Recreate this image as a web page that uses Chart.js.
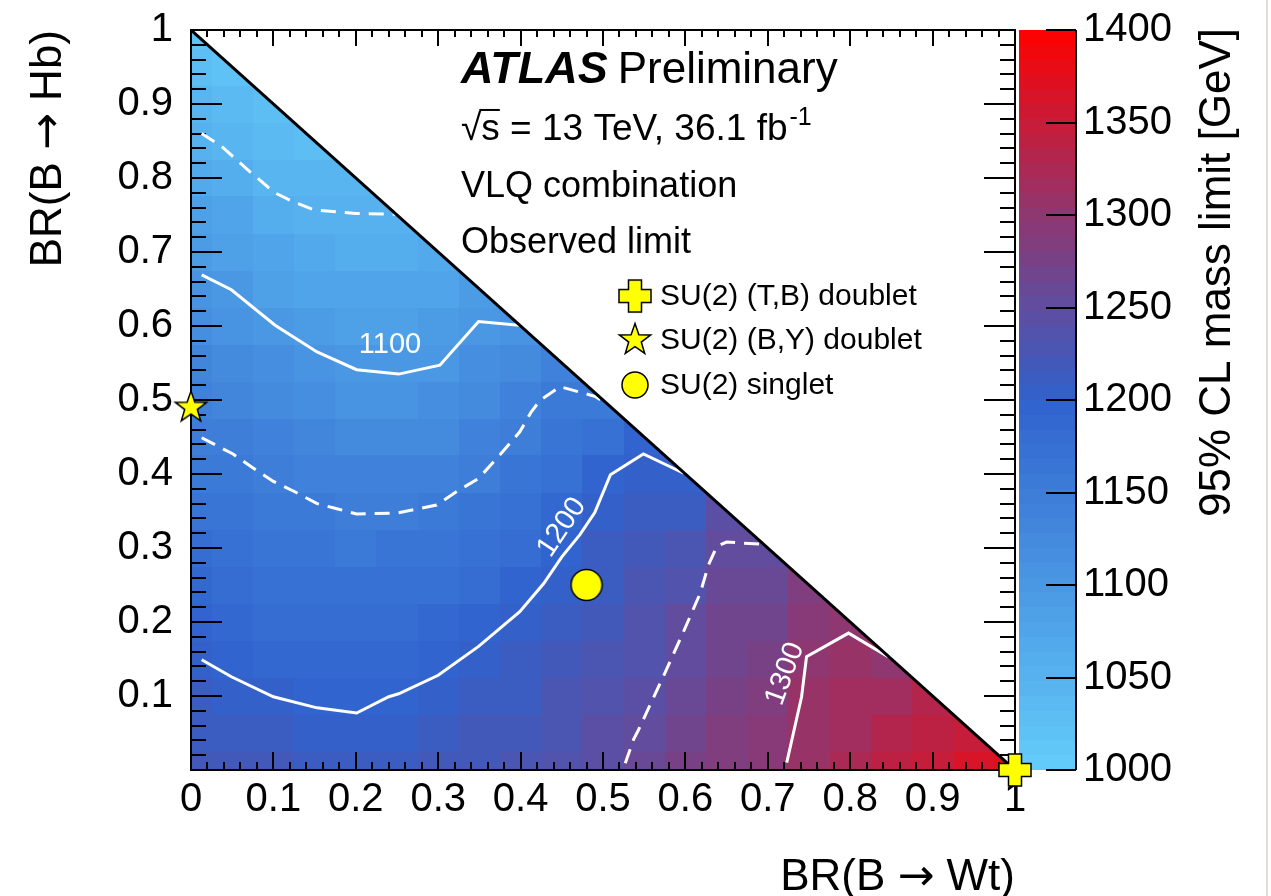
<!DOCTYPE html>
<html>
<head>
<meta charset="utf-8">
<script src="https://cdn.jsdelivr.net/npm/chart.js@4.4.1/dist/chart.umd.min.js"></script>
<style>
  html, body { margin: 0; padding: 0; background: #fff; }
  #wrap { position: relative; width: 1271px; height: 896px; overflow: hidden; }
  #edge { position: absolute; left: 1266px; top: 0; width: 2px; height: 896px; background: #e2ddd0; }
</style>
</head>
<body>
<div id="wrap">
  <canvas id="limit-chart" width="1271" height="896"></canvas>
  <div id="edge"></div>
</div>
<script>
const FONT = '"Liberation Sans", Arial, Helvetica, sans-serif';
const ARROW_FONT = '"DejaVu Sans", sans-serif';

// bin centres of the scan
const brWt = [0, 0.05, 0.1, 0.15, 0.2, 0.25, 0.3, 0.35, 0.4, 0.45, 0.5, 0.55, 0.6, 0.65, 0.7, 0.75, 0.8, 0.85, 0.9, 0.95, 1];
const brHb = [0, 0.05, 0.1, 0.15, 0.2, 0.25, 0.3, 0.35, 0.4, 0.45, 0.5, 0.55, 0.6, 0.65, 0.7, 0.75, 0.8, 0.85, 0.9, 0.95, 1];

// observed mass limit [GeV], one row per BR(B->Hb) bin, starting at BR(B->Wt) = 0
const limitHb000 = [1223, 1220, 1216, 1213, 1212, 1212, 1217, 1222, 1228, 1236, 1246, 1256, 1272, 1286, 1295, 1310, 1325, 1338, 1350, 1362, 1372];
const limitHb005 = [1215, 1212, 1208, 1206, 1204, 1206, 1211, 1216, 1222, 1231, 1240, 1252, 1267, 1281, 1290, 1307, 1318, 1330, 1340, 1350];
const limitHb010 = [1208, 1204, 1200, 1197, 1196, 1199, 1204, 1210, 1215, 1225, 1234, 1246, 1261, 1276, 1284, 1304, 1312, 1318, 1328];
const limitHb015 = [1201, 1196, 1191, 1188, 1186, 1190, 1195, 1203, 1209, 1219, 1228, 1239, 1255, 1270, 1278, 1300, 1305, 1302];
const limitHb020 = [1192, 1188, 1183, 1179, 1177, 1180, 1185, 1194, 1202, 1212, 1222, 1233, 1248, 1264, 1270, 1290, 1297];
const limitHb025 = [1184, 1180, 1174, 1170, 1168, 1170, 1174, 1183, 1193, 1205, 1215, 1226, 1238, 1258, 1261, 1280];
const limitHb030 = [1176, 1171, 1165, 1161, 1159, 1160, 1163, 1172, 1182, 1198, 1209, 1219, 1226, 1252, 1250];
const limitHb035 = [1167, 1163, 1157, 1152, 1149, 1149, 1152, 1161, 1172, 1186, 1203, 1212, 1213, 1240];
const limitHb040 = [1159, 1155, 1148, 1141, 1136, 1136, 1139, 1148, 1162, 1175, 1192, 1205, 1200];
const limitHb045 = [1151, 1145, 1136, 1129, 1123, 1123, 1126, 1136, 1151, 1164, 1175, 1195];
const limitHb050 = [1140, 1134, 1124, 1116, 1110, 1109, 1112, 1124, 1138, 1153, 1155];
const limitHb055 = [1129, 1122, 1112, 1104, 1098, 1097, 1099, 1112, 1122, 1140];
const limitHb060 = [1117, 1111, 1101, 1091, 1086, 1086, 1089, 1101, 1105];
const limitHb065 = [1106, 1100, 1087, 1078, 1074, 1075, 1079, 1092];
const limitHb070 = [1094, 1086, 1073, 1065, 1062, 1063, 1070];
const limitHb075 = [1081, 1072, 1058, 1052, 1050, 1052];
const limitHb080 = [1068, 1058, 1045, 1040, 1040];
const limitHb085 = [1055, 1045, 1035, 1030];
const limitHb090 = [1042, 1033, 1027];
const limitHb095 = [1030, 1022];
const limitHb100 = [1018];
const limitRows = [limitHb000, limitHb005, limitHb010, limitHb015, limitHb020, limitHb025, limitHb030,
  limitHb035, limitHb040, limitHb045, limitHb050, limitHb055, limitHb060, limitHb065, limitHb070,
  limitHb075, limitHb080, limitHb085, limitHb090, limitHb095, limitHb100];

// contour lines [BR(B->Wt), BR(B->Hb)]
const contour1050 = [[0.013, 0.860], [0.037, 0.843], [0.051, 0.829], [0.072, 0.808], [0.090, 0.791], [0.100, 0.781],
  [0.124, 0.768], [0.149, 0.757], [0.200, 0.752], [0.249, 0.751]];
const contour1100 = [[0.013, 0.669], [0.049, 0.649], [0.102, 0.601], [0.153, 0.565], [0.201, 0.541], [0.252, 0.535],
  [0.302, 0.547], [0.349, 0.606], [0.398, 0.601]];
const contour1150 = [[0.013, 0.449], [0.037, 0.435], [0.051, 0.427], [0.074, 0.409], [0.100, 0.390], [0.126, 0.376],
  [0.153, 0.360], [0.177, 0.353], [0.201, 0.346], [0.249, 0.347], [0.298, 0.358], [0.322, 0.376], [0.349, 0.394],
  [0.375, 0.426], [0.399, 0.457], [0.413, 0.484], [0.424, 0.500], [0.448, 0.518], [0.490, 0.505], [0.502, 0.497]];
const contour1200 = [[0.013, 0.149], [0.049, 0.126], [0.100, 0.099], [0.153, 0.084], [0.201, 0.077], [0.240, 0.099],
  [0.252, 0.103], [0.300, 0.128], [0.349, 0.167], [0.399, 0.214], [0.428, 0.252], [0.450, 0.288], [0.472, 0.318],
  [0.490, 0.348], [0.509, 0.399], [0.549, 0.427], [0.598, 0.401]];
const contour1250 = [[0.527, 0.009], [0.537, 0.041], [0.543, 0.054], [0.573, 0.126], [0.597, 0.185], [0.618, 0.239],
  [0.628, 0.277], [0.638, 0.302], [0.650, 0.308], [0.694, 0.305]];
const contour1300 = [[0.723, 0.010], [0.741, 0.099], [0.747, 0.153], [0.798, 0.185], [0.846, 0.153]];

const contourLabelText = ['1100', '1200', '1300'];
const contourLabelWt = [0.2415, 0.450, 0.721];
const contourLabelHb = [0.574, 0.328, 0.130];
const contourLabelAngle = [0, -56, -70];

// physics benchmarks
const benchmarkNames = ['SU(2) (T,B) doublet', 'SU(2) (B,Y) doublet', 'SU(2) singlet'];
const benchmarkWt = [1, 0, 0.48];
const benchmarkHb = [0, 0.49, 0.25];

const diagonalWt = [0, 1];
const diagonalHb = [1, 0];

const xTickLabels = ['0', '0.1', '0.2', '0.3', '0.4', '0.5', '0.6', '0.7', '0.8', '0.9', '1'];
const yTickLabels = ['', '0.1', '0.2', '0.3', '0.4', '0.5', '0.6', '0.7', '0.8', '0.9', '1'];
const zTickLabels = ['1000', '1050', '1100', '1150', '1200', '1250', '1300', '1350', '1400'];
const xTitleParts = ['BR(B ', '→', ' Wt)'];
const yTitleParts = ['BR(B ', '→', ' Hb)'];

const Z_MIN = 1000;
const Z_MAX = 1400;
const PALETTE_LEVELS = 50;
const paletteStops = [1000, 1200, 1300, 1400];
const paletteRgb = [[100, 205, 250], [48, 98, 205], [143, 55, 112], [255, 0, 0]];

const limitColour = function (value) {
    const step = (Z_MAX - Z_MIN) / PALETTE_LEVELS;
    let k = Math.floor((value - Z_MIN) / step);
    k = Math.max(0, Math.min(PALETTE_LEVELS - 1, k));
    const mid = Z_MIN + (k + 0.5) * step;
    let s = 0;
    while (s < paletteStops.length - 2 && mid > paletteStops[s + 1]) {
        s++;
    }
    const t = (mid - paletteStops[s]) / (paletteStops[s + 1] - paletteStops[s]);
    const a = paletteRgb[s];
    const b = paletteRgb[s + 1];
    const c = [0, 1, 2].map(n => Math.round(a[n] + (b[n] - a[n]) * t));
    return `rgb(${c[0]}, ${c[1]}, ${c[2]})`;
};

// yellow marker shapes
const makeMarker = function (size, draw) {
    const canvas = document.createElement('canvas');
    canvas.width = size;
    canvas.height = size;
    const c = canvas.getContext('2d');
    c.translate(size / 2, size / 2);
    c.beginPath();
    draw(c);
    c.closePath();
    c.fillStyle = '#ffff00';
    c.fill();
    c.lineWidth = 1.5;
    c.strokeStyle = '#000';
    c.stroke();
    return canvas;
};

const plusMarker = makeMarker(36, function (c) {
    const a = 16, t = 6.5;
    const pts = [[-t, -a], [t, -a], [t, -t], [a, -t], [a, t], [t, t], [t, a], [-t, a], [-t, t], [-a, t], [-a, -t], [-t, -t]];
    pts.forEach((p, i) => i === 0 ? c.moveTo(p[0], p[1]) : c.lineTo(p[0], p[1]));
});

const starMarker = makeMarker(38, function (c) {
    const outer = 16.5, inner = 6.6;
    for (let i = 0; i < 10; i++) {
        const r = i % 2 === 0 ? outer : inner;
        const ang = -Math.PI / 2 + i * Math.PI / 5;
        const px = r * Math.cos(ang), py = r * Math.sin(ang);
        i === 0 ? c.moveTo(px, py) : c.lineTo(px, py);
    }
});

const circleMarker = makeMarker(34, function (c) {
    c.arc(0, 0, 15.5, 0, Math.PI * 2);
});

const legendCircle = makeMarker(30, function (c) {
    c.arc(0, 0, 13, 0, Math.PI * 2);
});

const benchmarkStyles = [plusMarker, starMarker, circleMarker];
const legendStyles = [plusMarker, starMarker, legendCircle];

const contourDataset = function (points, dashed) {
    return {
        data: points.map(p => ({x: p[0], y: p[1]})),
        showLine: true,
        borderColor: '#ffffff',
        borderWidth: 3,
        borderDash: dashed ? [15, 9] : [],
        pointRadius: 0,
        tension: 0,
        fill: false
    };
};

// strip the overhang padding chart.js reserves for end labels
const fixedFit = function (size) {
    return function (scale) {
        if (scale.isHorizontal()) {
            scale.height = size;
        } else {
            scale.width = size;
        }
        scale.paddingTop = 0;
        scale.paddingBottom = 0;
        scale.paddingLeft = 0;
        scale.paddingRight = 0;
    };
};

const drawHeatmap = function (ctx, x, y) {
    const half = (brWt[1] - brWt[0]) / 2;
    ctx.save();
    ctx.beginPath();
    ctx.moveTo(x.getPixelForValue(0), y.getPixelForValue(0));
    ctx.lineTo(x.getPixelForValue(0), y.getPixelForValue(1));
    ctx.lineTo(x.getPixelForValue(1), y.getPixelForValue(0));
    ctx.closePath();
    ctx.clip();
    limitRows.forEach(function (row, j) {
        const yb = Math.round(y.getPixelForValue(Math.max(0, brHb[j] - half)));
        const yt = Math.round(y.getPixelForValue(Math.min(1, brHb[j] + half)));
        row.forEach(function (limit, i) {
            const xl = Math.round(x.getPixelForValue(Math.max(0, brWt[i] - half)));
            const xr = Math.round(x.getPixelForValue(Math.min(1, brWt[i] + half)));
            ctx.fillStyle = limitColour(limit);
            ctx.fillRect(xl, yt, xr - xl, yb - yt);
        });
    });
    ctx.restore();
};

const drawFrame = function (ctx, x, y, area) {
    ctx.save();
    ctx.strokeStyle = '#000';
    ctx.lineWidth = 2;
    ctx.beginPath();
    for (let k = 0; k <= 50; k++) {
        const major = k % 5 === 0;
        const px = Math.round(x.getPixelForValue(k / 50));
        ctx.moveTo(px, area.bottom);
        ctx.lineTo(px, area.bottom - (major ? 18 : 8));
        ctx.moveTo(px, area.top);
        ctx.lineTo(px, area.top + (major ? 16 : 7));
        const py = Math.round(y.getPixelForValue(k / 50));
        const len = major ? 31 : 15;
        ctx.moveTo(area.left, py);
        ctx.lineTo(area.left + len, py);
        ctx.moveTo(area.right, py);
        ctx.lineTo(area.right - len, py);
    }
    ctx.stroke();
    ctx.strokeRect(area.left, area.top, area.right - area.left, area.bottom - area.top);
    ctx.restore();
};

// axis title with a wider arrow glyph, drawn so that it ends at the origin
const drawAxisTitle = function (ctx, parts, size) {
    const fonts = [FONT, ARROW_FONT, FONT];
    const widths = parts.map(function (part, i) {
        ctx.font = `${size}px ${fonts[i]}`;
        return ctx.measureText(part).width;
    });
    let cx = -widths.reduce((a, b) => a + b, 0);
    ctx.textAlign = 'left';
    ctx.textBaseline = 'alphabetic';
    parts.forEach(function (part, i) {
        ctx.font = `${size}px ${fonts[i]}`;
        ctx.fillText(part, cx, 0);
        cx += widths[i];
    });
};

const drawColourBar = function (ctx, z, area) {
    const left = area.right + 4;
    const right = area.right + 61;
    const step = (Z_MAX - Z_MIN) / PALETTE_LEVELS;
    ctx.save();
    for (let k = 0; k < PALETTE_LEVELS; k++) {
        const lo = Z_MIN + k * step;
        const y0 = Math.round(z.getPixelForValue(lo));
        const y1 = Math.round(z.getPixelForValue(lo + step));
        ctx.fillStyle = limitColour(lo + step / 2);
        ctx.fillRect(left, y1, right - left, y0 - y1);
    }
    ctx.strokeStyle = '#000';
    ctx.lineWidth = 2;
    ctx.beginPath();
    ctx.moveTo(right, z.getPixelForValue(Z_MIN));
    ctx.lineTo(right, z.getPixelForValue(Z_MAX));
    z.ticks.forEach(function (tick) {
        const py = Math.round(z.getPixelForValue(tick.value));
        ctx.moveTo(right, py);
        ctx.lineTo(right - 30, py);
    });
    ctx.stroke();

    // axis title, reading bottom to top
    ctx.translate(area.right + 203, z.getPixelForValue(Z_MAX) - 2);
    ctx.rotate(-Math.PI / 2);
    ctx.fillStyle = '#000';
    ctx.font = `44px ${FONT}`;
    ctx.textAlign = 'right';
    ctx.textBaseline = 'middle';
    ctx.fillText('95% CL mass limit [GeV]', 0, 0);
    ctx.restore();
};

const drawAxisTitles = function (ctx, area) {
    ctx.save();
    ctx.fillStyle = '#000';
    ctx.translate(area.right, 890);
    drawAxisTitle(ctx, xTitleParts, 44);
    ctx.restore();

    ctx.save();
    ctx.fillStyle = '#000';
    ctx.translate(61, area.top);
    ctx.rotate(-Math.PI / 2);
    drawAxisTitle(ctx, yTitleParts, 44);
    ctx.restore();
};

const drawLabels = function (ctx, x, y) {
    ctx.save();
    ctx.fillStyle = '#ffffff';
    ctx.font = `29px ${FONT}`;
    ctx.textAlign = 'center';
    ctx.textBaseline = 'middle';
    contourLabelText.forEach(function (text, i) {
        ctx.save();
        ctx.translate(x.getPixelForValue(contourLabelWt[i]), y.getPixelForValue(contourLabelHb[i]));
        ctx.rotate(contourLabelAngle[i] * Math.PI / 180);
        ctx.fillText(text, 0, 0);
        ctx.restore();
    });
    ctx.restore();
};

const drawTexts = function (ctx, x, y) {
    const tx = x.getPixelForValue(0.3277);
    ctx.save();
    ctx.fillStyle = '#000';
    ctx.textAlign = 'left';
    ctx.textBaseline = 'alphabetic';

    ctx.font = `italic bold 45px ${FONT}`;
    const yAtlas = y.getPixelForValue(0.9284);
    ctx.fillText('ATLAS', tx, yAtlas);
    const atlasWidth = ctx.measureText('ATLAS').width;
    ctx.font = `44px ${FONT}`;
    ctx.fillText('Preliminary', tx + atlasWidth + 10, yAtlas);

    ctx.font = `37px ${FONT}`;
    const ySqrt = y.getPixelForValue(0.8514);
    const rootW = ctx.measureText('√').width;
    const sW = ctx.measureText('s').width;
    ctx.fillText('√s = 13 TeV, 36.1 fb', tx, ySqrt);
    ctx.strokeStyle = '#000';
    ctx.lineWidth = 2;
    ctx.beginPath();
    ctx.moveTo(tx + rootW - 2, ySqrt - 30);
    ctx.lineTo(tx + rootW + sW, ySqrt - 30);
    ctx.stroke();
    const lineW = ctx.measureText('√s = 13 TeV, 36.1 fb').width;
    ctx.font = `25px ${FONT}`;
    ctx.fillText('-1', tx + lineW + 2, ySqrt - 15);

    ctx.font = `36px ${FONT}`;
    ctx.fillText('VLQ combination', tx, y.getPixelForValue(0.7743));
    ctx.fillText('Observed limit', tx, y.getPixelForValue(0.6986));

    // legend
    const legendRowHb = [0.6405, 0.5811, 0.5203];
    const mx = x.getPixelForValue(0.5388);
    const lx = x.getPixelForValue(0.5692);
    ctx.font = `30px ${FONT}`;
    ctx.textBaseline = 'middle';
    benchmarkNames.forEach(function (name, i) {
        const my = y.getPixelForValue(legendRowHb[i]);
        const img = legendStyles[i];
        ctx.drawImage(img, mx - img.width / 2, my - img.height / 2);
        ctx.fillText(name, lx, my + 1);
    });
    ctx.restore();
};

const vlqPlugin = {
    id: 'vlqPlot',
    beforeDatasetsDraw(chart) {
        const {ctx, chartArea, scales} = chart;
        drawHeatmap(ctx, scales.x, scales.y);
        drawFrame(ctx, scales.x, scales.y, chartArea);
        drawColourBar(ctx, scales.zAxis, chartArea);
        drawAxisTitles(ctx, chartArea);
    },
    afterDatasetsDraw(chart) {
        const {ctx, scales} = chart;
        drawLabels(ctx, scales.x, scales.y);
        drawTexts(ctx, scales.x, scales.y);
    }
};

const datasets = [];
benchmarkNames.forEach(function (name, i) {
    datasets.push({
        label: name,
        data: [{x: benchmarkWt[i], y: benchmarkHb[i]}],
        pointStyle: benchmarkStyles[i],
        pointRadius: 10,
        showLine: false,
        clip: false
    });
});
datasets.push({
    label: 'kinematic limit',
    data: diagonalWt.map((wt, i) => ({x: wt, y: diagonalHb[i]})),
    showLine: true,
    borderColor: '#000',
    borderWidth: 3,
    pointRadius: 0
});
datasets.push(contourDataset(contour1050, true));
datasets.push(contourDataset(contour1100, false));
datasets.push(contourDataset(contour1150, true));
datasets.push(contourDataset(contour1200, false));
datasets.push(contourDataset(contour1250, true));
datasets.push(contourDataset(contour1300, false));

const tickFont = {family: FONT, size: 40};

const limitChart = new Chart(document.getElementById('limit-chart'), {
    type: 'scatter',
    data: {datasets: datasets},
    options: {
        responsive: false,
        animation: false,
        events: [],
        layout: {padding: {top: 30, left: 0, right: 0, bottom: 0}},
        scales: {
            x: {
                type: 'linear',
                position: 'bottom',
                min: 0,
                max: 1,
                ticks: {
                    stepSize: 0.1,
                    autoSkip: false,
                    maxRotation: 0,
                    padding: 6,
                    color: '#000',
                    font: tickFont,
                    callback: (value, index) => xTickLabels[index]
                },
                grid: {display: false, drawTicks: false},
                border: {display: false},
                title: {display: false},
                afterFit: fixedFit(126)
            },
            y: {
                type: 'linear',
                position: 'left',
                min: 0,
                max: 1,
                ticks: {
                    stepSize: 0.1,
                    autoSkip: false,
                    padding: 18,
                    color: '#000',
                    font: tickFont,
                    callback: (value, index) => yTickLabels[index]
                },
                grid: {display: false, drawTicks: false},
                border: {display: false},
                title: {display: false},
                afterFit: fixedFit(191)
            },
            zAxis: {
                axis: 'y',
                type: 'linear',
                position: 'right',
                min: Z_MIN,
                max: Z_MAX,
                ticks: {
                    stepSize: 50,
                    autoSkip: false,
                    padding: 68,
                    color: '#000',
                    font: tickFont,
                    callback: (value, index) => zTickLabels[index]
                },
                grid: {display: false, drawTicks: false},
                border: {display: false},
                afterFit: fixedFit(256)
            }
        },
        plugins: {
            legend: {display: false},
            tooltip: {enabled: false},
            title: {display: false}
        }
    },
    plugins: [vlqPlugin]
});
</script>
</body>
</html>
